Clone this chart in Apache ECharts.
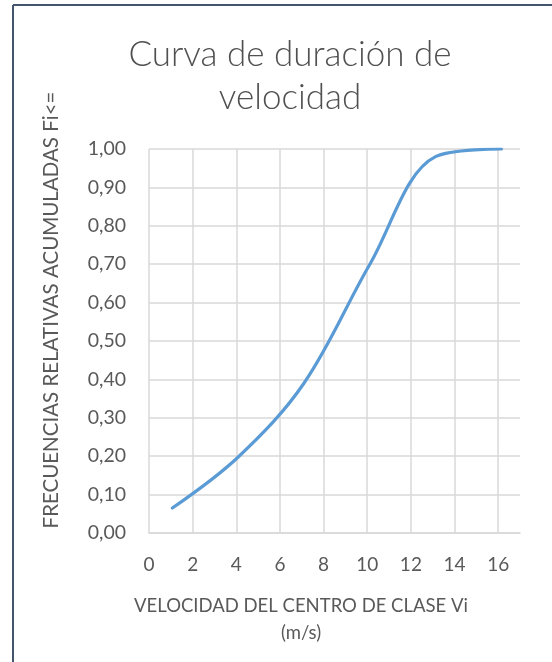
<!DOCTYPE html>
<html>
<head>
<meta charset="utf-8">
<script src="https://cdn.jsdelivr.net/npm/echarts@6/dist/echarts.min.js"></script>
<style>
  html, body { margin: 0; padding: 0; background: #fff; }
  #chart { width: 552px; height: 662px; }
</style>
</head>
<body>
<div id="chart"></div>
<script>
// Velocidad del centro de clase (m/s) y frecuencia relativa acumulada
const velocidad = [1.07, 4.09, 7.10, 10.12, 13.13, 16.15];
const frecuenciaAcumulada = [0.065, 0.198, 0.39, 0.70, 0.98, 1.0];

const xTicks = { min: 0, max: 16, step: 2 };
const yTicks = { min: 0, max: 1, step: 0.1 };

const tituloGrafico = 'Curva de duración de\nvelocidad';
const tituloEjeX = 'VELOCIDAD DEL CENTRO DE CLASE Vi\n(m/s)';
const tituloEjeY = 'FRECUENCIAS RELATIVAS ACUMULADAS Fi<=';

const FONT = 'Lato, "Open Sans", sans-serif';
const TEXT = '#595959';
const GRID = '#d9d9d9';

const chart = echarts.init(document.getElementById('chart'), null, { renderer: 'canvas' });

const plot = { left: 149, top: 149, width: 371, height: 384 };
const xMaxPlot = 17;

chart.setOption({
  animation: false,
  backgroundColor: '#ffffff',
  title: {
    text: tituloGrafico,
    left: 285,
    top: 28,
    textAlign: 'center',
    textStyle: { fontFamily: FONT, fontSize: 35, fontWeight: 300, color: '#505050', lineHeight: 43 }
  },
  grid: [
    { left: plot.left, top: plot.top, width: plot.width, height: plot.height },
    { left: plot.left, top: plot.top, width: plot.width * xTicks.max / xMaxPlot, height: plot.height }
  ],
  xAxis: [
    {
      type: 'value', gridIndex: 0, min: xTicks.min, max: xMaxPlot, interval: xTicks.step,
      axisLine: { show: true, lineStyle: { color: GRID, width: 1.5 } },
      axisTick: { show: false },
      splitLine: { show: false },
      axisLabel: {
        showMaxLabel: false, margin: 22,
        fontFamily: FONT, fontSize: 19, color: TEXT
      }
    },
    {
      type: 'value', gridIndex: 1, min: xTicks.min, max: xTicks.max, interval: xTicks.step,
      axisLine: { show: false }, axisTick: { show: false }, axisLabel: { show: false },
      splitLine: { show: true, lineStyle: { color: GRID, width: 1.5 } }
    }
  ],
  yAxis: [
    {
      type: 'value', gridIndex: 0, min: yTicks.min, max: yTicks.max, interval: yTicks.step,
      axisLine: { show: false }, axisTick: { show: false },
      splitLine: { show: true, lineStyle: { color: GRID, width: 1.5 } },
      axisLabel: {
        margin: 23, fontFamily: FONT, fontSize: 19.5, color: TEXT,
        formatter: v => v.toFixed(2).replace('.', ',')
      }
    },
    {
      type: 'value', gridIndex: 1, min: yTicks.min, max: yTicks.max,
      show: false, splitLine: { show: false }
    }
  ],
  graphic: [
    // marco superior e izquierdo del gráfico
    { type: 'line', shape: { x1: 13, y1: 5, x2: 552, y2: 5 }, style: { stroke: '#44546a', lineWidth: 2 } },
    { type: 'line', shape: { x1: 13, y1: 5, x2: 13, y2: 662 }, style: { stroke: '#44546a', lineWidth: 2 } },
    {
      type: 'text', x: 51, y: 310, rotation: Math.PI / 2,
      style: { text: tituloEjeY, fontFamily: FONT, fontSize: 20.5, fill: TEXT, align: 'center', verticalAlign: 'middle' }
    },
    {
      type: 'text', x: 301, y: 620,
      style: { text: tituloEjeX, fontFamily: FONT, fontSize: 18.5, fill: TEXT, align: 'center', verticalAlign: 'middle', lineHeight: 27 }
    }
  ],
  series: [{
    type: 'line',
    xAxisIndex: 0, yAxisIndex: 0,
    data: velocidad.map((v, i) => [v, frecuenciaAcumulada[i]]),
    smooth: 0.35,
    showSymbol: false,
    lineStyle: { color: '#5b9bd5', width: 3.2, cap: 'round' }
  }]
});
</script>
</body>
</html>
